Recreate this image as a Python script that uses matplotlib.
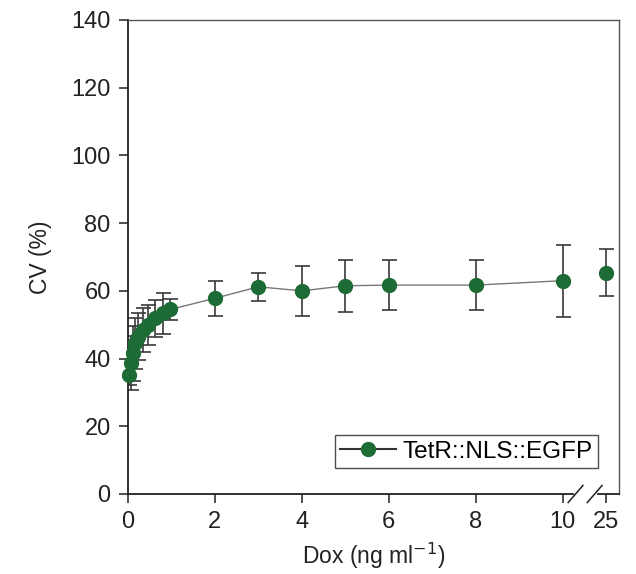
import matplotlib
matplotlib.use("Agg")
import matplotlib.pyplot as plt
from matplotlib.lines import Line2D

plt.rcParams['font.family'] = ['Liberation Sans', 'DejaVu Sans']

# Data (Dox in ng/ml; 25 is drawn after the axis break)
dox = [0.03, 0.06, 0.11, 0.16, 0.24, 0.35, 0.47, 0.62, 0.81, 0.97, 2, 3, 4, 5, 6, 8, 10, 25]
cv = [35.1, 38.6, 41.5, 44.5, 46.5, 48.4, 49.9, 51.9, 53.4, 54.5, 57.8, 61.2, 60.0, 61.5, 61.7, 61.7, 63.0, 65.4]
err = [3.0, 8.0, 8.0, 7.5, 7.0, 6.5, 6.0, 5.5, 6.0, 3.0, 5.2, 4.2, 7.4, 7.7, 7.3, 7.4, 10.6, 7.0]
xtick_labels = ['0', '2', '4', '6', '8', '10', '25']
ytick_values = [0, 20, 40, 60, 80, 100, 120, 140]
series_name = 'TetR::NLS::EGFP'

# map 25 onto the broken-axis position
break_pos = 11.0
xplot = [d if d <= 10 else break_pos for d in dox]
xtick_pos = [0, 2, 4, 6, 8, 10, break_pos]

green = '#1d6b35'
dark = '#222222'

fig = plt.figure(figsize=(6.36, 5.74), dpi=100)
ax = fig.add_axes([128/636, 1-494/574, (619-128)/636, (494-20)/574])

ax.errorbar(xplot, cv, yerr=err, fmt='none', ecolor='#3a3a3a', elinewidth=1.2,
            capsize=5.4, capthick=1.2, zorder=2)
ax.plot(xplot[:-1], cv[:-1], '-', color='#777777', lw=1.0, zorder=1)
ax.plot(xplot, cv, 'o', color=green, ms=10, zorder=3, clip_on=False)
ax.plot([], [], '-o', color='#333333', ms=10, mec=green, markerfacecolor=green,
        label=series_name)

ax.set_xlim(0, 11.3)
ax.set_ylim(0, 140)
ax.set_xticks(xtick_pos)
ax.set_xticklabels(xtick_labels)
ax.set_yticks(ytick_values)
ax.tick_params(direction='out', length=6.5, width=1.1, labelsize=17,
               colors=dark, pad=6)

for s in ['left', 'bottom']:
    ax.spines[s].set_linewidth(1.3)
    ax.spines[s].set_color(dark)
for s in ['top', 'right']:
    ax.spines[s].set_linewidth(1.0)
    ax.spines[s].set_color('#555555')

# axis break marks on the bottom axis
trans = ax.get_xaxis_transform()
ax.add_line(Line2D([10.32, 10.74], [0.0, 0.0], transform=trans, color='white',
                   lw=3, clip_on=False, zorder=5))
for xc in [10.3, 10.74]:
    ax.add_line(Line2D([xc - 0.17, xc + 0.17], [-0.018, 0.018], transform=trans,
                       color=dark, lw=1.1, clip_on=False, zorder=6))

ax.set_xlabel('Dox (ng ml$^{-1}$)', fontsize=16.5, color=dark, labelpad=5)
ax.set_ylabel('CV (%)', fontsize=16.5, color=dark, labelpad=14)

leg = ax.legend(loc='lower right', bbox_to_anchor=(0.957, 0.055), borderaxespad=0,
                fontsize=17.5, frameon=True, fancybox=False, edgecolor=dark,
                handlelength=2.3, handletextpad=0.25, borderpad=0.22)
leg.get_frame().set_linewidth(1.0)

fig.savefig('out.png', dpi=100)
